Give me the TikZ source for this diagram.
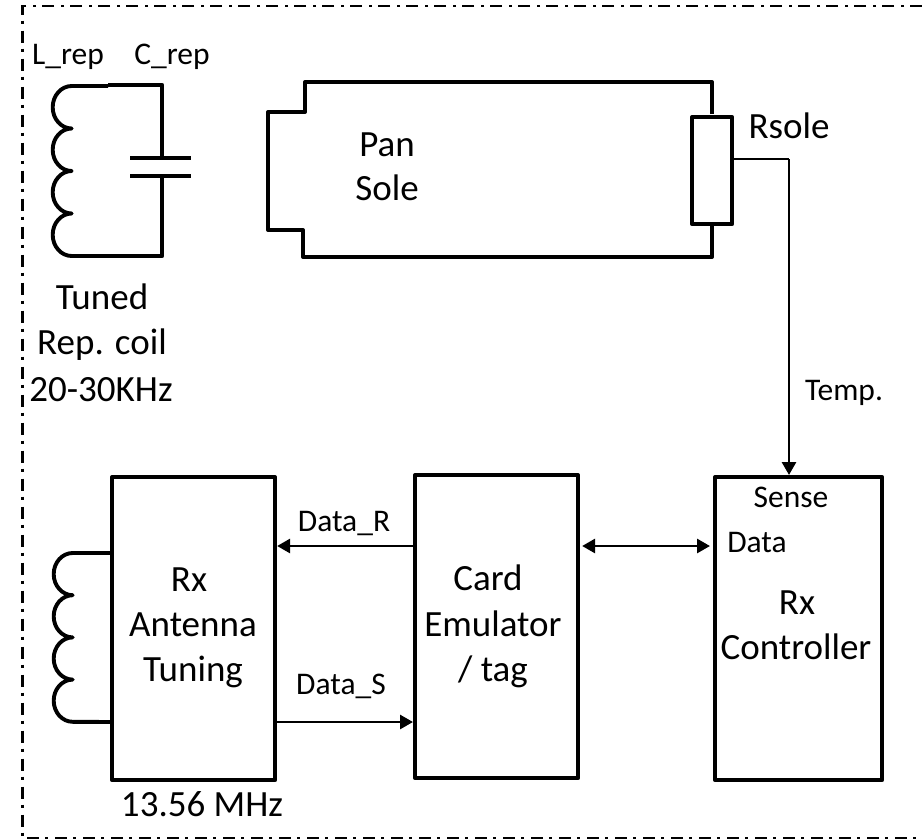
\documentclass[tikz,border=0pt]{standalone}
\usepackage{fontspec}
\setmainfont{Carlito}
\usetikzlibrary{arrows.meta}
\tikzset{
 thick line/.style={line width=3.9pt,line join=round},
 heavy line/.style={line width=4.2pt,line join=round},
 thin line/.style={line width=2.4pt},
 blockbox/.style={draw,line width=4.1pt,line join=round,inner sep=0pt},
 arr/.style={line width=2.8pt,-{Triangle[length=13pt,width=14pt]}},
 darr/.style={line width=2.8pt,{Triangle[length=13pt,width=14pt]}-{Triangle[length=13pt,width=14pt]}},
 big/.style={font=\fontsize{37}{44}\selectfont,anchor=base,inner sep=0pt},
 small/.style={font=\fontsize{31.5}{38}\selectfont,anchor=base,inner sep=0pt},
}
\begin{document}
\begin{tikzpicture}[x=1pt,y=-1pt]
\useasboundingbox (0,0) rectangle (922,839);
\fill[white] (0,0) rectangle (922,839);
% border
\draw[line width=2.7pt,dash pattern=on 12pt off 6pt on 3pt off 7pt] (922,6) -- (22.7,6) -- (22.7,838) -- (922,838);
% labels
\node[small] at (68,64) {L\_rep};
\node[small] at (172,64) {C\_rep};
\node[big] at (102,309) {Tuned};
\node[big] at (102,354) {Rep. coil};
\node[big] at (101,401) {20-30KHz};
\node[big] at (387,156) {Pan};
\node[big] at (387,200) {Sole};
\node[big] at (789,138) {Rsole};
\node[small] at (844,400) {Temp.};
% repeater coil and capacitor
\draw[thick line] (108,86) -- (71.7,86)
  arc[start angle=270,end angle=90,x radius=19,y radius=21.25]
  arc[start angle=270,end angle=90,x radius=19,y radius=21.25]
  arc[start angle=270,end angle=90,x radius=19,y radius=21.25]
  arc[start angle=270,end angle=90,x radius=19,y radius=21.25] -- (108,256);
\draw[heavy line] (108,85) -- (162,85) -- (162,157);
\draw[heavy line] (108,256) -- (162,256) -- (162,177);
\draw[heavy line] (130,158) -- (191,158);
\draw[heavy line] (130,176) -- (191,176);
% pan sole
\draw[thick line] (712,114) -- (712,82) -- (305,82) -- (305,112) -- (268,112) -- (268,230) -- (303,230) -- (303,257) -- (712,257) -- (712,225);
\node[blockbox,anchor=north west,minimum width=40pt,minimum height=107pt] (rs) at (690,115) {};
\coordinate (rbend) at (789,159);
% blocks
\node[blockbox,anchor=north west,minimum width=163pt,minimum height=303pt] (ant) at (110,475) {};
\node[blockbox,anchor=north west,minimum width=163pt,minimum height=303pt] (card) at (413,473) {};
\node[blockbox,anchor=north west,minimum width=167pt,minimum height=303pt] (ctrl) at (713,475) {};
\node[big] at (189,591) {Rx};
\node[big] at (193,636) {Antenna};
\node[big] at (193,681) {Tuning};
\node[big] at (488,590) {Card};
\node[big] at (493,636) {Emulator};
\node[big] at (493,681) {/ tag};
\node[big] at (797,614) {Rx};
\node[big] at (796,659) {Controller};
\node[small] at (791,507) {Sense};
\node[small] at (757,552) {Data};
\node[small] at (344,531) {Data\_R};
\node[small] at (341,694) {Data\_S};
\node[big] at (202,816) {13.56 MHz};
% antenna coil
\draw[thick line] (ant.west |- 0,553) -- (72.7,553)
  arc[start angle=270,end angle=90,x radius=19,y radius=21.1]
  arc[start angle=270,end angle=90,x radius=19,y radius=21.1]
  arc[start angle=270,end angle=90,x radius=19,y radius=21.1]
  arc[start angle=270,end angle=90,x radius=19,y radius=21.1] -- (ant.west |- 0,722);
% connectors
\draw[thin line] (rs.east |- rbend) -- (rbend);
\draw[arr] (rbend) -- (ctrl.north -| rbend);
\draw[arr] (card.west |- 0,546) -- (ant.east |- 0,546);
\draw[arr] (ant.east |- 0,722) -- (card.west |- 0,722);
\draw[darr,shorten <=2pt,shorten >=3pt] (card.east |- 0,546) -- (ctrl.west |- 0,546);
\end{tikzpicture}
\end{document}
